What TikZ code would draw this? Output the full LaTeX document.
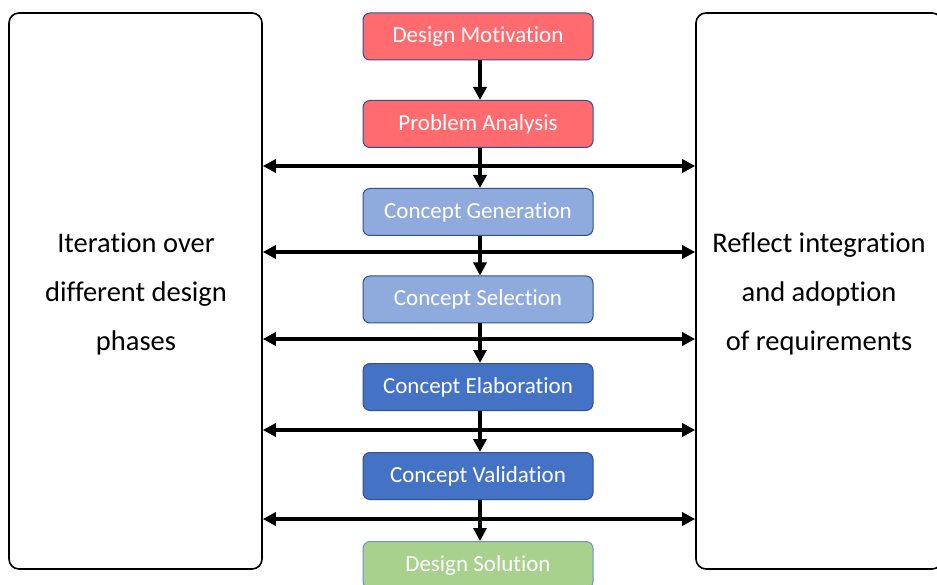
\documentclass[tikz,border=0pt]{standalone}
\usepackage{fontspec}
\setmainfont{Carlito}[Ligatures=NoCommon]
\usetikzlibrary{arrows.meta}
\definecolor{phasered}{HTML}{FF6B6F}
\definecolor{phaselight}{HTML}{8FAADC}
\definecolor{phaseblue}{HTML}{4472C4}
\definecolor{phasegreen}{HTML}{A9D18E}
\definecolor{phaseedge}{HTML}{2F528F}
\definecolor{greenedge}{HTML}{6F8FD0}
\begin{document}
\begin{tikzpicture}[x=1pt,y=-1pt,
  phase/.style={draw=phaseedge, line width=1pt, rounded corners=7pt,
    minimum width=230pt, minimum height=47pt, text=white,
    font=\fontsize{23}{27}\selectfont, inner sep=0pt},
  sidebox/.style={draw=black, line width=1.6pt, rounded corners=10pt,
    inner sep=0pt},
  sidetext/.style={font=\fontsize{28.5}{49}\selectfont, align=center},
  flow/.style={-{Triangle[length=13pt,width=13pt]}, line width=3.2pt},
  link/.style={{Triangle[length=13pt,width=13pt]}-{Triangle[length=13pt,width=13pt]}, line width=3.2pt}]
\useasboundingbox (0,0) rectangle (937,585);
\fill[white] (0,0) rectangle (937,585);

% side frames
\node[sidebox, minimum width=253pt, minimum height=556pt] (left) at (135.5,291) {};
\node[sidebox, minimum width=246pt, minimum height=556pt] (right) at (819,291) {};
\node[sidetext] (lefttext) at (136,294)
  {Iteration over\\different design\\phases};
\node[sidetext] (righttext) at (819,294)
  {Reflect integration\\and adoption\\of requirements};

% design phases
\node[phase, fill=phasered] (mot) at (478,36.5) {\raisebox{-1pt}{Design Motivation}};
\node[phase, fill=phasered] (ana) at (478,124) {\raisebox{-1pt}{Problem Analysis}};
\node[phase, fill=phaselight] (gen) at (478,212) {\raisebox{-1pt}{Concept Generation}};
\node[phase, fill=phaselight] (sel) at (478,299.5) {\raisebox{-1pt}{Concept Selection}};
\node[phase, fill=phaseblue] (ela) at (478,387) {\raisebox{-1pt}{Concept Elaboration}};
\node[phase, fill=phaseblue] (val) at (478,476) {\raisebox{-1pt}{Concept Validation}};
\node[phase, fill=phasegreen, draw=greenedge] (sol) at (478,565) {\raisebox{-1pt}{Design Solution}};

% sequence between phases
\foreach \a/\b in {mot/ana, ana/gen, gen/sel, sel/ela, ela/val, val/sol}
  \draw[flow] ([xshift=2pt]\a.south) -- ([xshift=2pt]\b.north);

% feedback links to both frames
\foreach \y [count=\i] in {166,252,339,430,519} {
  \coordinate (l\i) at (262,\y);
  \coordinate (r\i) at (696,\y);
  \draw[link] (left.east |- l\i) -- (right.west |- r\i);
}
\end{tikzpicture}
\end{document}
